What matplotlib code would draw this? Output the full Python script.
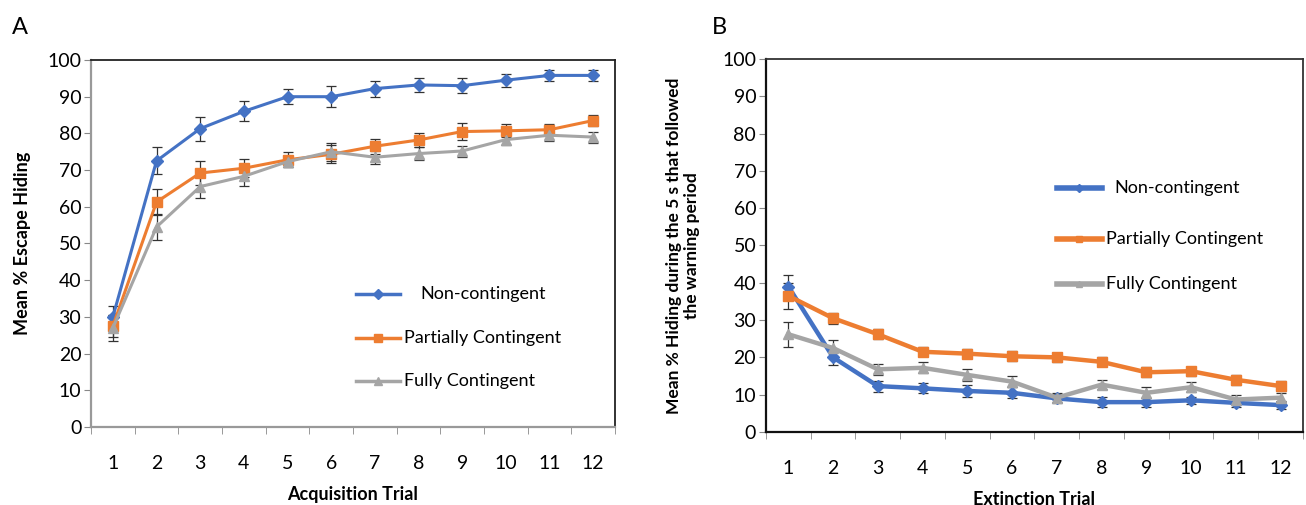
import numpy as np
import matplotlib.pyplot as plt

plt.rcParams['font.family'] = ['Lato', 'DejaVu Sans']

trials = np.arange(1, 13)
groups = ['Non-contingent', 'Partially Contingent', 'Fully Contingent']

# acquisition (panel A)
acq_non = [30, 72.5, 81.3, 86, 90, 90, 92.2, 93.2, 93, 94.5, 95.8, 95.8]
acq_non_err = [3, 3.7, 3.3, 2.7, 2, 2.8, 2.2, 1.8, 2, 1.8, 1.5, 1.5]
acq_part = [27.5, 61.3, 69.2, 70.5, 72.8, 74.3, 76.5, 78.2, 80.5, 80.7, 81, 83.5]
acq_part_err = [3, 3.5, 3.2, 2.5, 2, 2.5, 2, 2, 2.2, 1.8, 1.5, 1.5]
acq_full = [27, 54.5, 65.5, 68.3, 72.3, 75, 73.5, 74.5, 75.2, 78.3, 79.5, 79]
acq_full_err = [3.5, 3.5, 3.2, 2.5, 1.5, 2.5, 1.8, 1.8, 1.5, 1.5, 1.5, 1.5]

# extinction (panel B)
ext_non = [39, 20, 12.3, 11.7, 11, 10.5, 9, 8, 8, 8.5, 7.8, 7.2]
ext_non_err = [3, 2, 1.5, 1.3, 1.5, 1.5, 1.2, 1.3, 1.2, 1, 1, 1]
ext_part = [36.5, 30.5, 26.2, 21.5, 21, 20.3, 20, 18.8, 16, 16.3, 14, 12.3]
ext_part_err = [3.5, 1.5, 1.3, 1.2, 1.3, 1.3, 1.2, 1.2, 1.3, 1.2, 1.3, 1.3]
ext_full = [26.2, 22.5, 16.8, 17.2, 15.3, 13.5, 9.2, 12.7, 10.5, 12, 8.7, 9.2]
ext_full_err = [3.3, 2.2, 1.5, 1.5, 1.5, 1.5, 1.2, 1.2, 1.5, 1.3, 1.2, 1.2]

colors = ['#4472C4', '#ED7D31', '#A5A5A5']
markers = ['D', 's', '^']
msizes = [6, 7, 7]

fig = plt.figure(figsize=(13.06, 5.05), dpi=100)
axA = fig.add_axes([0.0697, 0.1545, 0.4012, 0.7267])
axB = fig.add_axes([0.5865, 0.1446, 0.4112, 0.7386])


def style_axis(ax, left_col, top_col):
    ax.set_xlim(0.5, 12.5)
    ax.set_ylim(0, 100)
    ax.set_yticks(range(0, 101, 10))
    ax.set_xticks(trials)
    ax.set_xticks(np.arange(0.5, 13, 1), minor=True)
    ax.tick_params(axis='x', which='major', length=0, labelsize=14, pad=20)
    ax.tick_params(axis='x', which='minor', length=5, color='#888888', direction='out')
    ax.tick_params(axis='y', length=5, color='#888888', labelsize=14, pad=2)
    ax.spines['left'].set_color(left_col)
    ax.spines['bottom'].set_color(left_col)
    ax.spines['left'].set_linewidth(1.6)
    ax.spines['bottom'].set_linewidth(1.6)
    ax.spines['top'].set_color(top_col)
    ax.spines['right'].set_color(top_col)
    ax.spines['top'].set_linewidth(1.3)
    ax.spines['right'].set_linewidth(1.3)


def legend(ax, xs, ys, texts_x, lw, ms_scale):
    for i, g in enumerate(groups):
        ax.plot(xs, [ys[i], ys[i]], color=colors[i], lw=lw, transform=ax.transAxes,
                clip_on=False)
        ax.plot([np.mean(xs)], [ys[i]], marker=markers[i], color=colors[i],
                ms=msizes[i] * ms_scale, transform=ax.transAxes, clip_on=False)
        ax.text(texts_x[i], ys[i], g, transform=ax.transAxes, fontsize=13,
                va='center', ha='left')


# panel A
seriesA = [(acq_non, acq_non_err), (acq_part, acq_part_err), (acq_full, acq_full_err)]
for i, (y, e) in enumerate(seriesA):
    ax = axA
    ax.errorbar(trials, y, yerr=e, fmt='none', ecolor='#333333', elinewidth=0.9,
                capsize=3.5, capthick=0.9, zorder=2)
    ax.plot(trials, y, color=colors[i], lw=2.2, marker=markers[i], ms=msizes[i], zorder=3)
style_axis(axA, '#999999', '#222222')
axA.set_xlabel('Acquisition Trial', fontsize=13, fontweight='bold', labelpad=10)
axA.set_ylabel('Mean % Escape Hiding', fontsize=13, fontweight='bold', labelpad=12)
legend(axA, [0.505, 0.59], [0.363, 0.243, 0.125], [0.628, 0.597, 0.597], 2.5, 0.8)

# panel B
seriesB = [(ext_non, ext_non_err), (ext_part, ext_part_err), (ext_full, ext_full_err)]
for i, (y, e) in enumerate(seriesB):
    ax = axB
    ax.errorbar(trials, y, yerr=e, fmt='none', ecolor='#333333', elinewidth=0.9,
                capsize=3.5, capthick=0.9, zorder=2)
    ax.plot(trials, y, color=colors[i], lw=3.2, marker=markers[i], ms=msizes[i], zorder=3)
style_axis(axB, '#111111', '#333333')
axB.set_xlabel('Extinction Trial', fontsize=13, fontweight='bold', labelpad=10)
axB.set_ylabel('Mean % Hiding during the 5 s that followed\nthe warning period',
               fontsize=12.5, fontweight='bold', labelpad=16, linespacing=1.15)
legend(axB, [0.541, 0.625], [0.655, 0.518, 0.397], [0.648, 0.633, 0.633], 4, 0.7)

fig.text(0.009, 0.945, 'A', fontsize=17, va='center')
fig.text(0.545, 0.945, 'B', fontsize=17, va='center')

plt.savefig('out.png', dpi=100)
